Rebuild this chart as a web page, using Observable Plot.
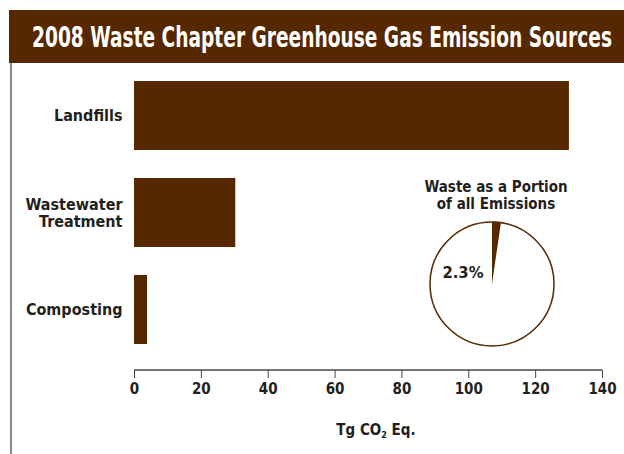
<!DOCTYPE html>
<html><head><meta charset="utf-8">
<script src="https://cdn.jsdelivr.net/npm/d3@7"></script>
<script src="https://cdn.jsdelivr.net/npm/@observablehq/plot@0.6"></script>
<style>
html,body{margin:0;padding:0;background:#fff;}
#wrap{position:relative;width:624px;height:454px;overflow:hidden;font-family:"Liberation Sans Narrow","DejaVu Sans Condensed",sans-serif;font-stretch:condensed;}
#titlebox{position:absolute;left:0;top:0;}
#vline{position:absolute;left:10px;top:63px;width:2px;height:391px;background:#8a8a8a;}
#chart{position:absolute;left:0;top:62px;}
</style></head>
<body><div id="wrap"><svg id="titlebox" width="624" height="64"><rect x="9" y="10" width="615" height="53" fill="#562800"></rect><text id="title" x="32" y="47" fill="#fff" font-weight="bold" font-size="28" textLength="580" lengthAdjust="spacingAndGlyphs">2008 Waste Chapter Greenhouse Gas Emission Sources</text></svg><div id="vline"></div><div id="chart"></div></div>
<script>
const categories = ["Landfills", "Wastewater Treatment", "Composting"];
const values = [130.1, 30.3, 3.9];
const xTicks = [0, 20, 40, 60, 80, 100, 120, 140];
const pieLabels = ["Waste", "All other sources"];
const pieShares = [2.3, 97.7];
const pieTitle = "Waste as a Portion\nof all Emissions";
const pieText = "2.3%";

const brown = "#562800";
const ink = "#231f20";
const data = categories.map((c, i) => ({category: c, value: values[i]}));

function pieMark(index, scales, values, dims) {
  const g = d3.create("svg:g");
  const cx = 492, cy = 222, r = 62;
  const arcs = d3.pie().sort(null).value(d => d.share)(pieLabels.map((l, i) => ({label: l, share: pieShares[i]})));
  const arc = d3.arc().innerRadius(0).outerRadius(r);
  const pg = g.append("g").attr("transform", `translate(${cx},${cy})`);
  pg.selectAll("path").data(arcs).join("path")
    .attr("d", arc)
    .attr("fill", (d, i) => i === 0 ? brown : "#fff")
    .attr("stroke", (d, i) => i === 0 ? brown : "none");
  pg.append("circle").attr("r", r).attr("fill", "none").attr("stroke", brown).attr("stroke-width", 1.5);
  const t = g.append("text").attr("text-anchor", "middle").attr("fill", ink)
    .attr("font-weight", "bold").attr("font-size", 15);
  pieTitle.split("\n").forEach((line, i) => {
    t.append("tspan").attr("x", 496).attr("y", 130 + i * 17).text(line);
  });
  g.append("text").attr("x", 463).attr("y", 216).attr("text-anchor", "middle")
    .attr("fill", ink).attr("font-weight", "bold").attr("font-size", 16.5).text(pieText);
  return g.node();
}

function axisLine(index, scales, values, dims) {
  const y = dims.height - dims.marginBottom;
  return d3.create("svg:line")
    .attr("x1", scales.x(xTicks[0])).attr("x2", scales.x(xTicks[xTicks.length - 1]))
    .attr("y1", y).attr("y2", y)
    .attr("stroke", "#444").attr("stroke-width", 1.5).node();
}

const chart = Plot.plot({
  width: 624,
  height: 392,
  marginLeft: 134,
  marginRight: 22,
  marginTop: 8,
  marginBottom: 84,
  insetBottom: 15,
  style: {fontFamily: '"Liberation Sans Narrow","DejaVu Sans Condensed",sans-serif', fontStretch: "condensed", background: "transparent"},
  x: {domain: [0, 140], ticks: xTicks, label: null},
  y: {domain: categories, paddingInner: 0.29, paddingOuter: 0.1, label: null},
  marks: [
    Plot.barX(data, {x: "value", y: "category", fill: brown}),
    Plot.axisY({tickSize: 0, tickPadding: 12, fontSize: 16, fontWeight: "bold", fill: ink,
      tickFormat: d => d === "Wastewater Treatment" ? "Wastewater\nTreatment" : d, lineHeight: 1.05}),
    Plot.axisX({ticks: xTicks, tickSize: 8, tickPadding: 5, fontSize: 15, fontWeight: "bold", fill: ink, stroke: "#444", label: null}),
    axisLine,
    pieMark,
    () => {
      const t = d3.create("svg:text").attr("x", 376).attr("y", 373).attr("text-anchor", "middle")
        .attr("fill", ink).attr("font-weight", "bold").attr("font-size", 15);
      t.append("tspan").text("Tg CO");
      t.append("tspan").attr("font-size", 9).attr("dy", 3).text("2");
      t.append("tspan").attr("dy", -3).text(" Eq.");
      return t.node();
    }
  ]
});
document.getElementById("chart").appendChild(chart);
</script></body></html>
